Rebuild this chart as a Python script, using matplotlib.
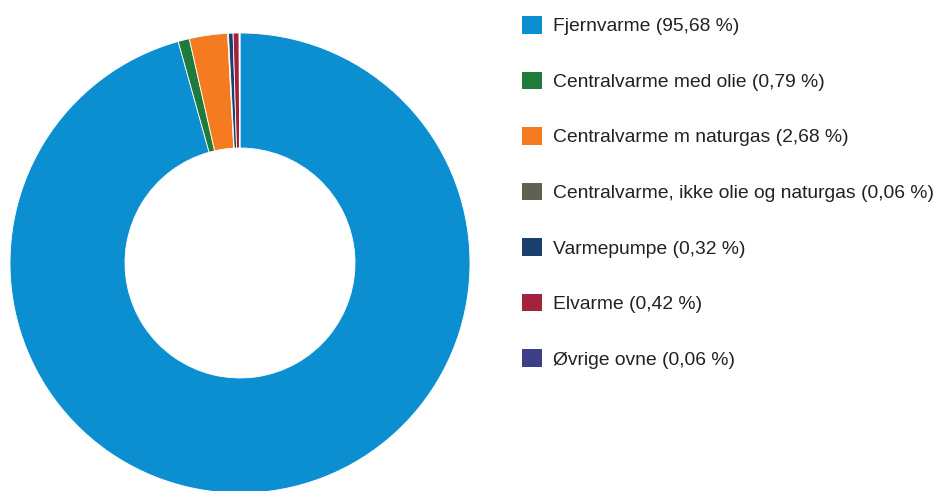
import matplotlib.pyplot as plt
from matplotlib.patches import Patch

plt.rcParams['font.family'] = ['Liberation Sans', 'DejaVu Sans']

# Data
kategorier = ['Fjernvarme', 'Centralvarme med olie', 'Centralvarme m naturgas',
              'Centralvarme, ikke olie og naturgas', 'Varmepumpe', 'Elvarme', 'Øvrige ovne']
andele = [95.68, 0.79, 2.68, 0.06, 0.32, 0.42, 0.06]
farver = ['#0b8fd0', '#1f7b3c', '#f47b20', '#5c6353', '#1b3f6c', '#a2223b', '#3b3f86']

W, H = 937, 491
fig = plt.figure(figsize=(W / 100, H / 100), dpi=100)

# Donut: center ~ (240, 263) px, outer radius ~230 px
cx, cy, R = 240, 263, 230
ax = fig.add_axes([(cx - R) / W, (H - cy - R) / H, 2 * R / W, 2 * R / H])
ax.pie(andele, colors=farver, startangle=90, counterclock=False, radius=1,
       wedgeprops=dict(width=0.5, edgecolor='white', linewidth=0.6))
ax.set_xlim(-1, 1)
ax.set_ylim(-1, 1)
ax.set_aspect('equal')
ax.axis('off')

# Legend
labels = [f'{k} ({v:.2f} %)'.replace('.', ',') for k, v in zip(kategorier, andele)]
handles = [Patch(facecolor=c, edgecolor='none') for c in farver]
fig.legend(handles, labels, loc='upper left', bbox_to_anchor=(522 / W, 1 - 16 / H),
           frameon=False, fontsize=13.9, handlelength=1.03, handleheight=1.03,
           handletextpad=0.57, labelspacing=1.87, borderaxespad=0, borderpad=0,
           labelcolor='#222222')

fig.savefig('out.png', dpi=100)
